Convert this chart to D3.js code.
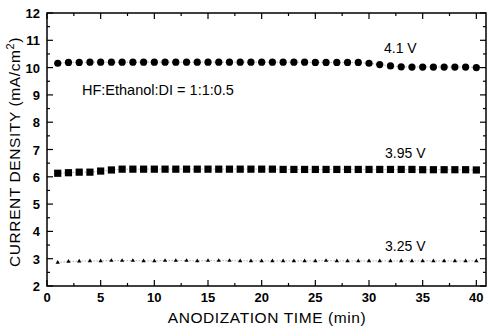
<!DOCTYPE html>
<html><head><meta charset="utf-8">
<script src="https://cdn.jsdelivr.net/npm/d3@7"></script>
<style>body{margin:0;background:#fff}svg{display:block}</style>
</head><body>
<svg id="c" width="489" height="328"></svg>
<script>
const times = d3.range(1, 41);
const v41 = [10.16,10.19,10.19,10.20,10.20,10.20,10.20,10.20,10.20,10.20,10.20,10.20,10.20,10.20,10.20,10.20,10.20,10.20,10.20,10.20,10.20,10.20,10.20,10.20,10.19,10.19,10.19,10.19,10.19,10.16,10.11,10.06,10.03,10.02,10.02,10.02,10.02,10.02,10.02,10.00];
const v395 = [6.13,6.15,6.17,6.17,6.21,6.25,6.28,6.28,6.28,6.28,6.28,6.28,6.28,6.28,6.28,6.28,6.28,6.28,6.28,6.28,6.28,6.27,6.27,6.27,6.27,6.27,6.27,6.27,6.27,6.27,6.27,6.27,6.27,6.27,6.26,6.26,6.26,6.26,6.26,6.25];
const v325 = [2.86,2.90,2.91,2.92,2.92,2.93,2.93,2.93,2.92,2.92,2.93,2.93,2.93,2.92,2.93,2.93,2.93,2.92,2.92,2.92,2.92,2.92,2.92,2.92,2.92,2.93,2.92,2.92,2.92,2.92,2.92,2.92,2.92,2.92,2.92,2.92,2.92,2.92,2.92,2.92];
const xTicks = [0,5,10,15,20,25,30,35,40];
const yTicks = [2,3,4,5,6,7,8,9,10,11,12];
const seriesLabels = ["4.1 V","3.95 V","3.25 V"];

const svg = d3.select("#c");
const L=47, R=486, T=13, B=286;
const x = d3.scaleLinear().domain([0,40.9]).range([L,R]);
const y = d3.scaleLinear().domain([2,12]).range([B,T]);
const font = "Arial, 'Liberation Sans', sans-serif";

svg.append("rect").attr("x",L).attr("y",T).attr("width",R-L).attr("height",B-T)
  .attr("fill","none").attr("stroke","#000").attr("stroke-width",1.5);

const xMinor = d3.range(0,41,2.5);
const yMinor = d3.range(2,12.01,0.5);
const g = svg.append("g").attr("stroke","#000").attr("stroke-width",1.2);
xMinor.forEach(t=>{
  const maj = t%5===0, len = maj?6:3;
  g.append("line").attr("x1",x(t)).attr("x2",x(t)).attr("y1",B).attr("y2",B-len);
  g.append("line").attr("x1",x(t)).attr("x2",x(t)).attr("y1",T).attr("y2",T+len);
});
yMinor.forEach(v=>{
  const maj = Math.abs(v-Math.round(v))<1e-6, len = maj?6:3;
  g.append("line").attr("x1",L).attr("x2",L+len).attr("y1",y(v)).attr("y2",y(v));
  g.append("line").attr("x1",R).attr("x2",R-len).attr("y1",y(v)).attr("y2",y(v));
});

svg.selectAll(".xt").data(xTicks).join("text").attr("x",d=>x(d)).attr("y",B+16)
  .attr("text-anchor","middle").attr("font-family",font).attr("font-size",13).attr("font-weight","bold").text(d=>d);
svg.selectAll(".yt").data(yTicks).join("text").attr("x",L-7).attr("y",d=>y(d)+5)
  .attr("text-anchor","end").attr("font-family",font).attr("font-size",13).attr("font-weight","bold").text(d=>d);

svg.append("text").attr("x",267).attr("y",323).attr("text-anchor","middle")
  .attr("font-family",font).attr("font-size",15.5).attr("letter-spacing",0.6).text("ANODIZATION  TIME (min)");
const yt = svg.append("text").attr("transform","translate(20,152) rotate(-90)").attr("text-anchor","middle")
  .attr("font-family",font).attr("font-size",15.5).attr("letter-spacing",0.6);
yt.append("tspan").text("CURRENT  DENSITY (mA/cm");
yt.append("tspan").attr("font-size",11).attr("dy",-6).text("2");
yt.append("tspan").attr("dy",6).text(")");

const line = d3.line().x((d,i)=>x(times[i])).y(d=>y(d));
[v41,v395,v325].forEach(arr=>{
  svg.append("path").attr("d",line(arr)).attr("fill","none").attr("stroke","#666")
    .attr("stroke-width",0.8).attr("stroke-dasharray","1,2");
});
svg.selectAll(".c41").data(v41).join("circle").attr("cx",(d,i)=>x(times[i])).attr("cy",d=>y(d)).attr("r",3.6).attr("fill","#000");
svg.selectAll(".s395").data(v395).join("rect").attr("x",(d,i)=>x(times[i])-3.6).attr("y",d=>y(d)-3.6).attr("width",7.2).attr("height",7.2).attr("fill","#000");
const tri = d3.symbol().type(d3.symbolTriangle).size(8);
svg.selectAll(".t325").data(v325).join("path").attr("d",tri).attr("transform",(d,i)=>`translate(${x(times[i])},${y(d)})`).attr("fill","#000");

const lab = [[384,53],[385,158],[385,251]];
seriesLabels.forEach((s,i)=>svg.append("text").attr("x",lab[i][0]).attr("y",lab[i][1])
  .attr("font-family",font).attr("font-size",14).text(s));
svg.append("text").attr("x",82).attr("y",95).attr("font-family",font).attr("font-size",14.5).text("HF:Ethanol:DI = 1:1:0.5");
</script>
</body></html>
